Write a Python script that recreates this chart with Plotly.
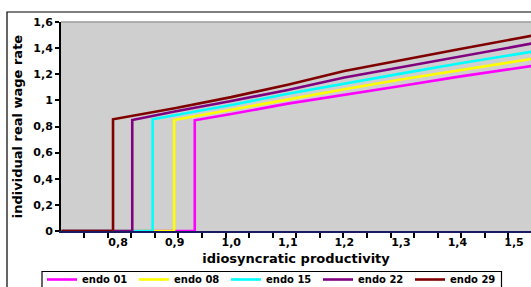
import plotly.graph_objects as go

# ---- data ----
names = ["endo 01", "endo 08", "endo 15", "endo 22", "endo 29"]
colors = ["#FF00FF", "#FFFF00", "#00FFFF", "#800080", "#800000"]

x_endo01 = [0.70, 0.9355, 0.9355, 1.0, 1.1, 1.2, 1.3, 1.4, 1.5, 1.55]
y_endo01 = [0.0, 0.0, 0.848, 0.895, 0.975, 1.04, 1.11, 1.18, 1.245, 1.275]

x_endo08 = [0.70, 0.899, 0.899, 1.0, 1.1, 1.2, 1.3, 1.4, 1.5, 1.55]
y_endo08 = [0.0, 0.0, 0.85, 0.93, 1.01, 1.085, 1.16, 1.23, 1.295, 1.33]

x_endo15 = [0.70, 0.861, 0.861, 0.9, 1.0, 1.1, 1.2, 1.3, 1.4, 1.5, 1.55]
y_endo15 = [0.0, 0.0, 0.855, 0.885, 0.965, 1.05, 1.13, 1.205, 1.28, 1.35, 1.385]

x_endo22 = [0.70, 0.825, 0.825, 0.9, 1.0, 1.1, 1.2, 1.3, 1.4, 1.5, 1.55]
y_endo22 = [0.0, 0.0, 0.85, 0.915, 0.995, 1.08, 1.175, 1.255, 1.33, 1.41, 1.45]

x_endo29 = [0.70, 0.791, 0.791, 0.9, 1.0, 1.1, 1.2, 1.3, 1.4, 1.5, 1.55]
y_endo29 = [0.0, 0.0, 0.855, 0.94, 1.025, 1.12, 1.225, 1.31, 1.39, 1.47, 1.51]

x_tick_vals = [0.8, 0.9, 1.0, 1.1, 1.2, 1.3, 1.4, 1.5]
x_tick_text = ["0,8", "0,9", "1,0", "1,1", "1,2", "1,3", "1,4", "1,5"]
y_tick_vals = [0, 0.2, 0.4, 0.6, 0.8, 1.0, 1.2, 1.4, 1.6]
y_tick_text = ["0", "0,2", "0,4", "0,6", "0,8", "1", "1,2", "1,4", "1,6"]

series = [
    (x_endo01, y_endo01),
    (x_endo08, y_endo08),
    (x_endo15, y_endo15),
    (x_endo22, y_endo22),
    (x_endo29, y_endo29),
]

FONT = "DejaVu Sans"

fig = go.Figure()
for (xs, ys), name, col in zip(series, names, colors):
    fig.add_trace(go.Scatter(
        x=xs, y=ys, mode="lines", name=name,
        line=dict(color=col, width=2.6),
    ))

W, H = 531, 287
L, R, T, B = 61, 0, 22, 56
pw, ph = W - L - R, H - T - B

def px_to_paper_x(px):
    return (px - L) / pw

def px_to_paper_y(py):
    return (H - B - py) / ph

fig.update_layout(
    width=W, height=H,
    margin=dict(l=L, r=R, t=T, b=B, pad=0, autoexpand=False),
    paper_bgcolor="white",
    plot_bgcolor="#cfcfcf",
    font=dict(family=FONT, color="black"),
    showlegend=True,
    legend=dict(
        orientation="h",
        x=px_to_paper_x(42), xanchor="left",
        y=px_to_paper_y(265), yanchor="top",
        borderwidth=0, bgcolor="rgba(0,0,0,0)",
        font=dict(family=FONT, size=10, color="black", weight="bold"),
        entrywidth=47, entrywidthmode="pixels",
        itemclick=False, itemdoubleclick=False,
        tracegroupgap=0,
    ),
    xaxis=dict(
        range=[0.699, 1.53],
        tickmode="array", tickvals=x_tick_vals, ticktext=x_tick_text,
        ticks="", showgrid=False, zeroline=False,
        showline=True, linecolor="#1a1a60", linewidth=2,
        tickfont=dict(family=FONT, size=11, color="black", weight="bold"),
        minor=dict(ticks="outside", tickmode="linear", tick0=0.74, dtick=1/24,
                   ticklen=5, tickwidth=2, tickcolor="black", showgrid=False),
        title=dict(text="idiosyncratic productivity", standoff=6,
                   font=dict(family=FONT, size=13, color="black", weight="bold")),
        fixedrange=True,
    ),
    yaxis=dict(
        range=[0, 1.6],
        tickmode="array", tickvals=y_tick_vals, ticktext=y_tick_text,
        ticks="outside", ticklen=4, tickwidth=2, tickcolor="black",
        showgrid=False, zeroline=False,
        showline=True, linecolor="black", linewidth=2,
        tickfont=dict(family=FONT, size=11, color="black", weight="bold"),
        title=dict(text="individual real wage rate", standoff=8,
                   font=dict(family=FONT, size=13, color="black", weight="bold")),
        fixedrange=True,
    ),
    shapes=[
        dict(type="line", xref="paper", yref="paper", x0=0, x1=1, y0=1, y1=1,
             line=dict(color="#9a9a9a", width=1.5)),
        dict(type="rect", xref="paper", yref="paper",
             x0=px_to_paper_x(7), x1=px_to_paper_x(545),
             y0=px_to_paper_y(300), y1=px_to_paper_y(12),
             line=dict(color="black", width=1.2), fillcolor="rgba(0,0,0,0)",
             layer="below"),
        dict(type="rect", xref="paper", yref="paper",
             x0=px_to_paper_x(42), x1=px_to_paper_x(501.5),
             y0=px_to_paper_y(300), y1=px_to_paper_y(271.5),
             line=dict(color="black", width=1.2), fillcolor="white",
             layer="below"),
    ],
)

fig.write_html(
    "out.html",
    config=dict(displayModeBar=False),
    post_script="document.body.style.margin='0';document.body.style.overflow='hidden';",
)
